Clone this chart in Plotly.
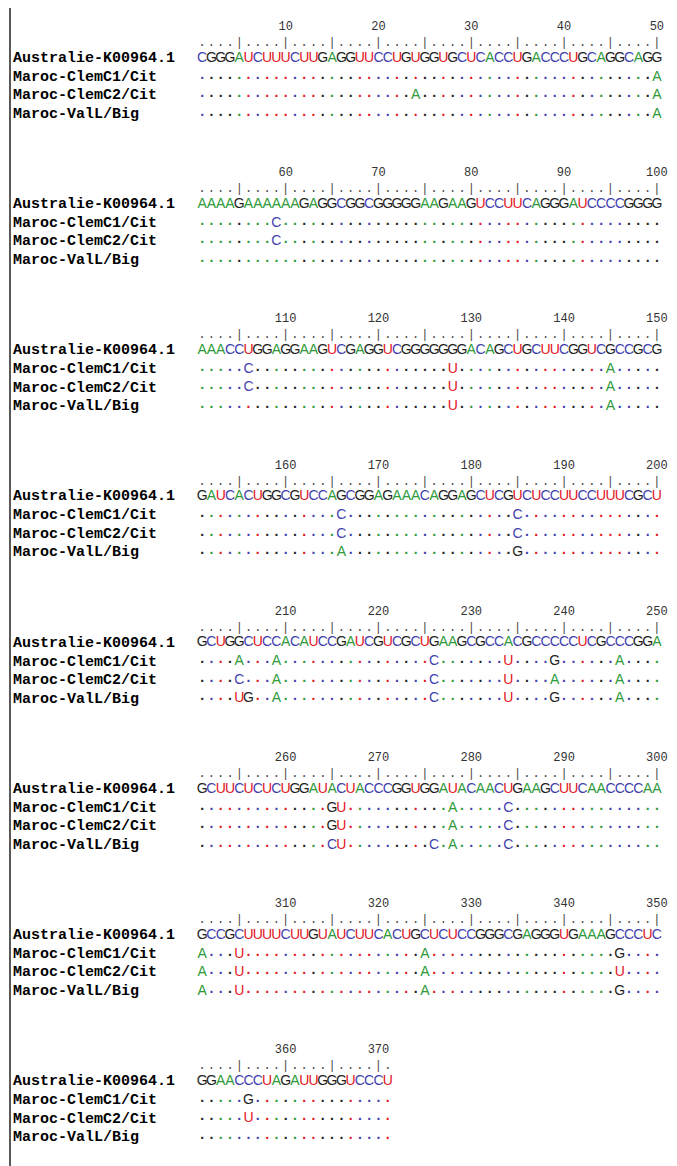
import plotly.graph_objects as go

# ---------------- data ----------------
ref_name = "Australie-K00964.1"
isolate_names = ["Maroc-ClemC1/Cit", "Maroc-ClemC2/Cit", "Maroc-ValL/Big"]

ref_lines = [
    "CGGGAUCUUUCUUGAGGUUCCUGUGGUGCUCACCUGACCCUGCAGGCAGG",
    "AAAAGAAAAAAGAGGCGGCGGGGGAAGAAGUCCUUCAGGGAUCCCCGGGG",
    "AAACCUGGAGGAAGUCGAGGUCGGGGGGGACAGCUGCUUCGGUCGCCGCG",
    "GAUCACUGGCGUCCAGCGGAGAAACAGGAGCUCGUCUCCUUCCUUUCGCU",
    "GCUGGCUCCACAUCCGAUCGUCGCUGAAGCGCCACGCCCCCUCGCCCGGA",
    "GCUUCUCUCUGGAUACUACCCGGUGGAUACAACUGAAGCUUCAACCCCAA",
    "GCCGCUUUUCUUGUAUCUUCACUGCUCUCCGGGCGAGGGUGAAAGCCCUC",
    "GGAACCCUAGAUUGGGUCCCU",
]

# substitutions relative to the reference (position -> base)
clemc1_subs = {50: "A", 59: "C", 106: "C", 128: "U", 145: "A", 166: "C", 185: "C",
               205: "A", 209: "A", 226: "C", 234: "U", 239: "G", 246: "A",
               265: "G", 266: "U", 278: "A", 284: "C", 301: "A", 305: "U",
               325: "A", 346: "G", 356: "G"}
clemc2_subs = {24: "A", 50: "A", 59: "C", 106: "C", 128: "U", 145: "A", 166: "C", 185: "C",
               205: "C", 209: "A", 226: "C", 234: "U", 239: "A", 246: "A",
               265: "G", 266: "U", 278: "A", 284: "C", 301: "A", 305: "U",
               325: "A", 346: "U", 356: "U"}
vall_subs = {50: "A", 128: "U", 145: "A", 166: "A", 185: "G",
             205: "U", 206: "G", 209: "A", 226: "C", 234: "U", 239: "G", 246: "A",
             265: "C", 266: "U", 276: "C", 278: "A", 284: "C", 301: "A", 305: "U",
             325: "A", 346: "G"}
isolate_subs = [clemc1_subs, clemc2_subs, vall_subs]

block_len = 50
tick_every = 10

# ---------------- styles / layout ----------------
PAGE_W, PAGE_H = 677, 1166
BODY_MARGIN = 8               # default page body margin around the figure div
W, H = PAGE_W - BODY_MARGIN, PAGE_H - BODY_MARGIN

base_colors = {"A": "#2e9a3a", "C": "#3f3fae", "G": "#1e1e1e", "U": "#e3161e"}
x0, cw = 197.5, 9.28          # first column left edge, column width (page px)
block_step = 146.2
y_num, y_ruler, y_ref = 27, 43, 58
row_ys = [77, 95.5, 114]
label_x = 13

seq_font = "Liberation Sans, Arial, sans-serif"
mono_font = "Liberation Mono, Courier New, monospace"

groups = {}  # (color, is_dot) -> (xs, ys, texts)


def add(color, is_dot, x, y, t):
    g = groups.setdefault((color, is_dot), ([], [], []))
    g[0].append(x); g[1].append(y); g[2].append(t)


ruler_x, ruler_y, ruler_t = [], [], []
num_x, num_y, num_t = [], [], []
lab_x, lab_y, lab_t = [], [], []

for b, line in enumerate(ref_lines):
    off = b * block_step
    lab_x.append(label_x); lab_y.append(y_ref + off); lab_t.append(ref_name)
    for r, nm in enumerate(isolate_names):
        lab_x.append(label_x); lab_y.append(row_ys[r] + off); lab_t.append(nm)
    for i, base in enumerate(line):
        pos = b * block_len + i + 1
        xc = x0 + (i + 0.5) * cw
        ruler_x.append(xc); ruler_y.append(y_ruler + off)
        ruler_t.append("|" if pos % 5 == 0 else ".")
        if pos % tick_every == 0:
            num_x.append(xc); num_y.append(y_num + off); num_t.append(str(pos))
        add(base_colors[base], False, xc, y_ref + off, base)
        for r, subs in enumerate(isolate_subs):
            if pos in subs:
                nb = subs[pos]
                add(base_colors[nb], False, xc, row_ys[r] + off, nb)
            else:
                add(base_colors[base], True, xc, row_ys[r] + off - 2, ".")

fig = go.Figure()

for (color, is_dot), (xs, ys, ts) in groups.items():
    fig.add_trace(go.Scatter(x=xs, y=ys, text=ts, mode="text",
                             textposition="middle center",
                             textfont=dict(family=seq_font, size=14, color=color,
                                           weight="bold" if is_dot else "normal"),
                             hoverinfo="skip", showlegend=False))

fig.add_trace(go.Scatter(x=ruler_x, y=ruler_y, text=ruler_t, mode="text",
                         textposition="middle center",
                         textfont=dict(family=mono_font, size=12, color="#444444"),
                         hoverinfo="skip", showlegend=False))
fig.add_trace(go.Scatter(x=num_x, y=num_y, text=num_t, mode="text",
                         textposition="middle center",
                         textfont=dict(family=mono_font, size=12, color="#333333"),
                         hoverinfo="skip", showlegend=False))
fig.add_trace(go.Scatter(x=lab_x, y=lab_y, text=lab_t, mode="text",
                         textposition="middle right",
                         textfont=dict(family=mono_font, size=15, color="#000000",
                                       weight="bold"),
                         hoverinfo="skip", showlegend=False))

fig.add_shape(type="line", xref="x", yref="y", x0=10, x1=10,
              y0=BODY_MARGIN, y1=PAGE_H, line=dict(color="#222222", width=1.5))

# axes expressed in page pixels (the figure starts after the body margin)
fig.update_layout(width=W, height=H, margin=dict(l=0, r=0, t=0, b=0),
                  paper_bgcolor="white", plot_bgcolor="white",
                  xaxis=dict(range=[BODY_MARGIN, PAGE_W], visible=False, fixedrange=True),
                  yaxis=dict(range=[PAGE_H, BODY_MARGIN], visible=False, fixedrange=True))

fig.write_html("out.html")
